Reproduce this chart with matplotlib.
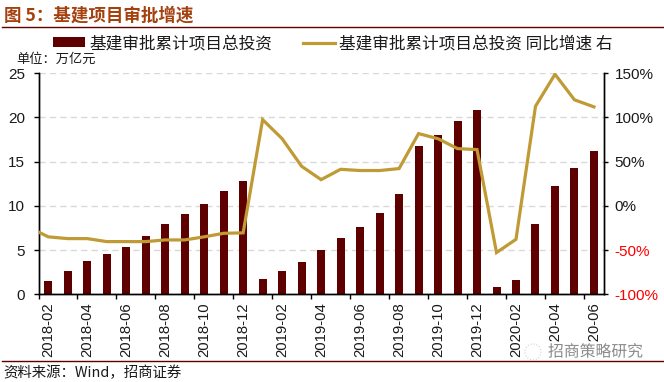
import matplotlib
matplotlib.use("Agg")
import matplotlib.pyplot as plt
import matplotlib.patheffects as pe
from matplotlib.lines import Line2D
from matplotlib.patches import Circle

months = ["2018-02","2018-03","2018-04","2018-05","2018-06","2018-07","2018-08","2018-09","2018-10","2018-11","2018-12",
          "2019-01","2019-02","2019-03","2019-04","2019-05","2019-06","2019-07","2019-08","2019-09","2019-10","2019-11","2019-12",
          "2020-01","2020-02","2020-03","2020-04","2020-05","2020-06"]
invest = [1.5,2.6,3.8,4.6,5.4,6.6,8.0,9.1,10.2,11.7,12.8,
          1.7,2.6,3.7,5.0,6.4,7.6,9.2,11.4,16.8,18.0,19.6,20.9,
          0.8,1.6,8.0,12.3,14.3,16.2]
growth_lead = -29.5
growth = [-35,-37,-37,-40.4,-40.4,-40.4,-38.5,-38.5,-35,-31,-30.5,
          97.6,76,44.8,29.7,41.4,40,40,42.2,81.8,76,64.8,63.7,
          -52.8,-37.8,112.7,148.9,120,112]
left_ticks = [0,5,10,15,20,25]
right_ticks = [-100,-50,0,50,100,150]

title = "图 5：基建项目审批增速"
unit = "单位：万亿元"
source = "资料来源：Wind，招商证券"
legend_a = "基建审批累计项目总投资"
legend_b = "基建审批累计项目总投资 同比增速 右"
watermark = "招商策略研究"

CJK = ["Noto Sans CJK SC", "Liberation Sans", "DejaVu Sans"]
LAT = ["Liberation Sans", "DejaVu Sans"]
plt.rcParams["font.family"] = LAT
W, H = 664, 382
DARK = "#5F0000"
GOLD = "#BF9A35"
TXT = "#1A1A1A"

fig = plt.figure(figsize=(W/100, H/100), dpi=100, facecolor="white")
ax = fig.add_axes([38.5/W, 1-294.3/H, 565.2/W, 221/H])
x = list(range(len(months)))
ax.set_xlim(-0.5, len(months)-0.5)
ax.set_ylim(0, 25)
ax.set_axisbelow(True)
ax.yaxis.grid(True, color="#D9D9D9", ls=(0, (4.5, 3)), lw=1.0)
ax.xaxis.grid(False)
bars = ax.bar(x, invest, width=0.41, color=DARK, zorder=2)

ax2 = ax.twinx()
ax2.set_ylim(-100, 150)
ax2.plot([ax.get_xlim()[0]] + x, [growth_lead] + growth, color=GOLD, lw=2.3, solid_joinstyle="miter", zorder=3)

for a in (ax, ax2):
    a.spines["top"].set_visible(False)
    for s in a.spines.values():
        s.set_linewidth(1.0)
        s.set_color("black")
ax.set_yticks(left_ticks)
ax.tick_params(axis="y", direction="out", length=3.5, width=1, labelsize=11, labelcolor=TXT, pad=6)
ax2.set_yticks(right_ticks, [f"{v}%" for v in right_ticks])
ax2.tick_params(axis="y", direction="out", length=3, width=1, labelsize=11, pad=5)
for lab, v in zip(ax2.get_yticklabels(), right_ticks):
    lab.set_color("#FF0000" if v < 0 else TXT)

ax.set_xticks([i-0.5 for i in x[::2]])
ax.set_xticklabels([])
ax.set_xticks(x[::2], minor=True)
ax.set_xticklabels(months[::2], minor=True, rotation=90, fontsize=10.7, color=TXT)
ax.tick_params(axis="x", which="major", direction="out", length=3.5, width=1)
ax.tick_params(axis="x", which="minor", length=0, pad=6)

fig.text(4/W, 1-16/H, title, family=CJK, fontsize=12.6, fontweight="bold", color="#A5400F", va="center", ha="left")
fig.add_artist(Line2D([2/W, 1], [1-27.3/H]*2, color=DARK, lw=1.0))
fig.add_artist(Line2D([2/W, 1], [1-361/H]*2, color=DARK, lw=1.0))
fig.text(16/W, 1-59/H, unit, family=CJK, fontsize=9.5, color=TXT, va="center", ha="left")
fig.text(3/W, 1-372.5/H, source, family=CJK, fontsize=10.4, color=TXT, va="center", ha="left")

handles = [bars, Line2D([], [], color=GOLD, lw=2.3)]
leg = fig.legend(handles, [legend_a, legend_b], ncols=2, loc="center left",
                 bbox_to_anchor=(53/W, 1-43.5/H), borderaxespad=0, borderpad=0, frameon=False,
                 prop={"family": CJK, "size": 12}, labelcolor=TXT,
                 handlelength=1.92, handleheight=0.48, handletextpad=0.25, columnspacing=1.85)

stroke = [pe.withStroke(linewidth=2.5, foreground="white")]
fig.add_artist(Circle((533, H-352), 8, transform=None, facecolor="white", edgecolor="#D0D0D0", lw=0.8, ls=":", zorder=8))
fig.text(548/W, 1-352/H, watermark, family=CJK, fontsize=11.4, color="#8A8A8A", va="center", ha="left",
         path_effects=stroke, zorder=9)
fig.savefig("out.png", dpi=100)
